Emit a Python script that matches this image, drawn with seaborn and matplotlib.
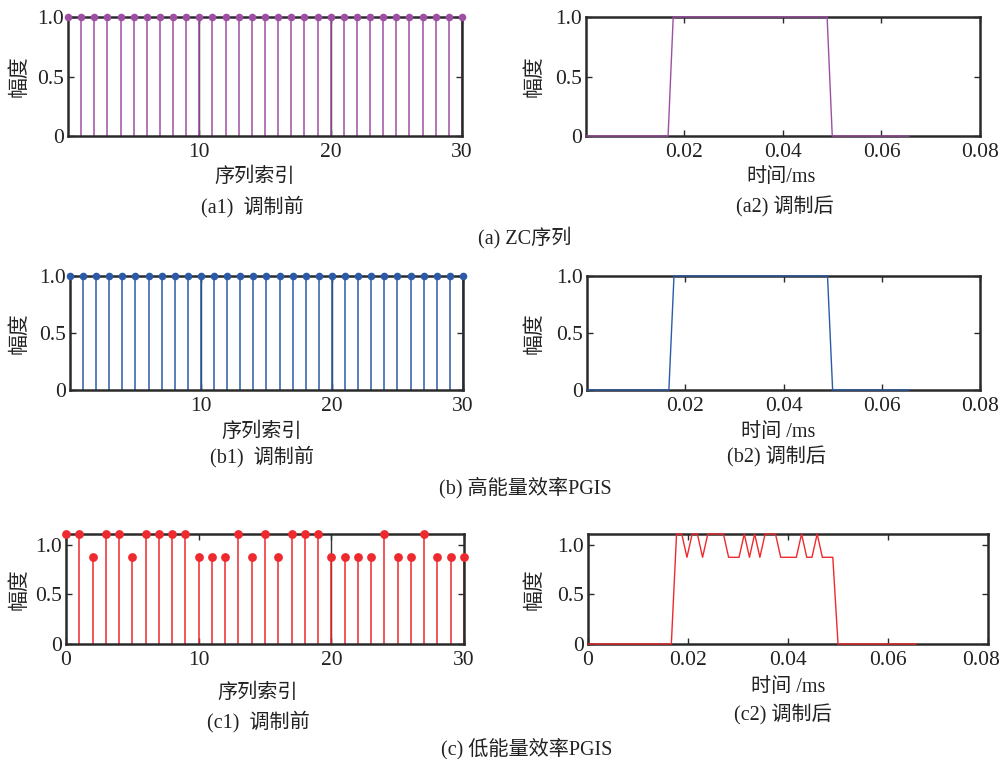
import numpy as np
import pandas as pd
import matplotlib
matplotlib.use("Agg")
import matplotlib.pyplot as plt
import matplotlib.transforms as mtransforms
import seaborn as sns

sns.set_style("ticks")
plt.rcParams['font.family'] = ['Liberation Serif', 'Noto Sans CJK SC', 'DejaVu Sans']
plt.rcParams['axes.unicode_minus'] = False

# ---------------- data ----------------
seq_index = list(range(31))
zc_before = [1.0] * 31
high_before = [1.0] * 31
H, L = 1.11, 0.875
low_before = [H, H, L, H, H, L, H, H, H, H, L, L, L, H, L, H,
              L, H, H, H, L, L, L, L, H, L, L, H, L, L, L]

sample_dt = 0.0010417  # ms per sample
n_samples = 64
time_ms = [i * sample_dt for i in range(n_samples)]
zc_after = [0.0] * 17 + [1.0] * 31 + [0.0] * 16
high_after = [0.0] * 17 + [1.0] * 31 + [0.0] * 16
low_after = [0.0] * 17 + low_before + [0.0] * 16

colors = {"a": "#9E4FA3", "b": "#2B5BA8", "c": "#EE2A2E"}
spine_col = "#2a2a2a"

W, Hpx = 1003, 759
fig = plt.figure(figsize=(W / 100, Hpx / 100), dpi=100)


def add_ax(left, right, top, bottom):
    return fig.add_axes([left / W, 1 - bottom / Hpx, (right - left) / W, (bottom - top) / Hpx])


def style(ax, xticks, xlabels, ylim_top):
    ax.set_ylim(0, ylim_top)
    ax.set_yticks([0, 0.5, 1.0])
    ax.set_yticklabels(["0", "0.5", "1.0"])
    ax.set_xticks(xticks)
    ax.set_xticklabels(xlabels)
    ax.tick_params(direction="in", length=4, width=1, color=spine_col,
                   top=True, right=True, labelsize=15.5, colors="#222222")
    ax.tick_params(axis="x", pad=5)
    ax.tick_params(axis="y", pad=3)
    for s in ax.spines.values():
        s.set_visible(True)
        s.set_linewidth(1.8)
        s.set_color(spine_col)
    ax.set_xlabel("")
    ax.set_ylabel("")


def stem_panel(ax, x, y, color, ylim_top, xticks, xlabels, dark_lines, msize):
    for xv in dark_lines:
        ax.axvline(xv, color="#333333", lw=1.0, zorder=1)
    ax.vlines(x, 0, y, colors=color, lw=1.1, zorder=2)
    df = pd.DataFrame({"x": x, "y": y})
    sns.scatterplot(data=df, x="x", y="y", ax=ax, color=color, s=msize,
                    edgecolor=color, linewidth=0, zorder=4, clip_on=False, legend=False)
    ax.set_xlim(0, 30)
    style(ax, xticks, xlabels, ylim_top)


def line_panel(ax, t, y, color, ylim_top, xticks, xlabels):
    df = pd.DataFrame({"t": t, "y": y})
    sns.lineplot(data=df, x="t", y="y", ax=ax, color=color, lw=1.0, zorder=3,
                 clip_on=False, estimator=None, sort=False)
    ax.set_xlim(0, 0.08)
    style(ax, xticks, xlabels, ylim_top)


# (a)
ax = add_ax(68, 462, 17, 136)
stem_panel(ax, seq_index, zc_before, colors["a"], 1.0, [10, 20, 30], ["10", "20", "30"], [10, 20], 30)
ax = add_ax(586, 980, 17, 136)
line_panel(ax, time_ms, zc_after, colors["a"], 1.0, [0.02, 0.04, 0.06, 0.08], ["0.02", "0.04", "0.06", "0.08"])

# (b)
ax = add_ax(70, 463, 276, 390)
stem_panel(ax, seq_index, high_before, colors["b"], 1.0, [10, 20, 30], ["10", "20", "30"], [10, 20], 30)
ax = add_ax(587, 980, 276, 390)
line_panel(ax, time_ms, high_after, colors["b"], 1.0, [0.02, 0.04, 0.06, 0.08], ["0.02", "0.04", "0.06", "0.08"])

# (c)
ax = add_ax(66, 464, 534, 644)
stem_panel(ax, seq_index, low_before, colors["c"], H, [0, 10, 20, 30], ["0", "10", "20", "30"], [20], 40)
ax = add_ax(588, 988, 534, 644)
line_panel(ax, time_ms, low_after, colors["c"], H, [0, 0.02, 0.04, 0.06, 0.08], ["0", "0.02", "0.04", "0.06", "0.08"])
last = ax.get_xticklabels()[-1]
last.set_horizontalalignment("right")
last.set_transform(last.get_transform() + mtransforms.ScaledTranslation(12 / 100, 0, fig.dpi_scale_trans))


def ftext(x, y, s, size=14, rot=0):
    fig.text(x / W, 1 - y / Hpx, s, ha="center", va="center", fontsize=size,
             rotation=rot, color="#222222")


# y labels
for yc in [(17 + 136) / 2, (276 + 390) / 2, (534 + 644) / 2]:
    ftext(20, yc, "幅度", 15, 90)
    ftext(535, yc, "幅度", 15, 90)

# x labels and captions
ftext(255, 177, "序列索引", 14.5)
ftext(252, 207, "(a1)  调制前", 14.5)
ftext(781, 178, "时间/ms", 14.5)
ftext(785, 207, "(a2) 调制后", 14.5)
ftext(525, 238, "(a) ZC序列", 14.5)

ftext(262, 432, "序列索引", 14.5)
ftext(262, 457, "(b1)  调制前", 14.5)
ftext(778, 432, "时间 /ms", 14.5)
ftext(777, 457, "(b2) 调制后", 14.5)
ftext(525, 488, "(b) 高能量效率PGIS", 14.5)

ftext(258, 693, "序列索引", 14.5)
ftext(258, 722, "(c1)  调制前", 14.5)
ftext(788, 687, "时间 /ms", 14.5)
ftext(783, 715, "(c2) 调制后", 14.5)
ftext(527, 749, "(c) 低能量效率PGIS", 14.5)

fig.savefig("out.png", dpi=100)
